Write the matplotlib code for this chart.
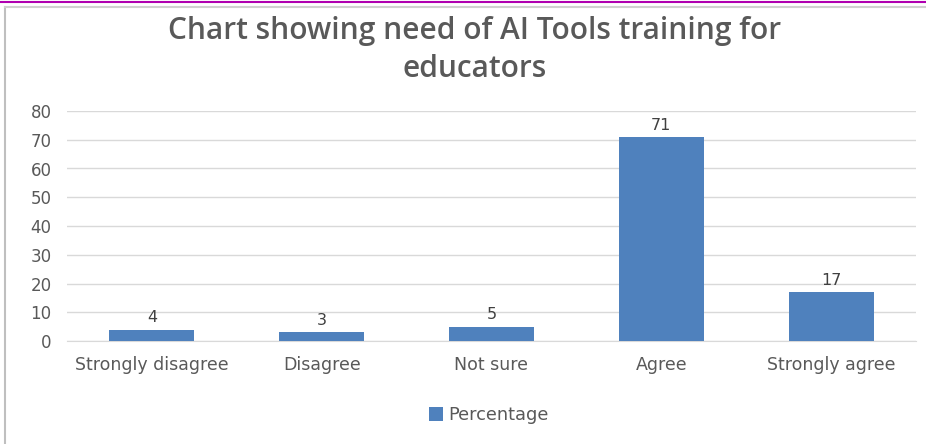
import matplotlib
matplotlib.use("Agg")
import matplotlib.pyplot as plt
from matplotlib.lines import Line2D

categories = ["Strongly disagree", "Disagree", "Not sure", "Agree", "Strongly agree"]
values = [4, 3, 5, 71, 17]
series_name = "Percentage"
yticks = [0, 10, 20, 30, 40, 50, 60, 70, 80]

plt.rcParams['font.family'] = ['DejaVu Sans']
text_color = "#595959"
bar_color = "#4F81BD"

fig = plt.figure(figsize=(9.26, 4.44), dpi=100)
ax = fig.add_axes([67/926, 1-341/444, (916-67)/926, (341-111)/444])

x = list(range(len(categories)))
bars = ax.bar(x, values, width=0.5, color=bar_color, label=series_name, zorder=3)
for xi, v in zip(x, values):
    ax.annotate(str(v), (xi, v), xytext=(0, 3), textcoords="offset points",
                ha="center", va="bottom", fontsize=11.5, color="#404040")

ax.set_xlim(-0.5, len(categories) - 0.5)
ax.set_ylim(0, 80)
ax.set_yticks(yticks)
ax.set_xticks(x)
ax.set_xticklabels(categories, fontsize=12.5)
ax.tick_params(axis='both', length=0, colors=text_color)
ax.tick_params(axis='y', pad=11, labelsize=12)
ax.tick_params(axis='x', pad=11)
ax.grid(axis='y', color="#D9D9D9", linewidth=1, zorder=0)
for s in ["top", "right", "left"]:
    ax.spines[s].set_visible(False)
ax.spines["bottom"].set_color("#D9D9D9")

fig.text(475/926, 1-50/444, "Chart showing need of AI Tools training for\neducators",
         ha="center", va="center", fontsize=21.5, fontweight="semibold",
         fontstretch="normal", family="Open Sans",
         color=text_color, linespacing=1.33)

fig.legend(loc="center", bbox_to_anchor=(489/926, 1-415/444), frameon=False,
           fontsize=12.8, handlelength=0.8, handleheight=0.8, handletextpad=0.3,
           labelcolor=text_color)

fig.add_artist(Line2D([0, 1], [1-2/444, 1-2/444], color="#B000B0", linewidth=1.5))
fig.add_artist(Line2D([5/926, 5/926], [0, 1-7/444], color="#BFBFBF", linewidth=1.5))
fig.add_artist(Line2D([5/926, 1], [1-7/444, 1-7/444], color="#D0D0D0", linewidth=1.5))

fig.savefig("out.png", dpi=100)
